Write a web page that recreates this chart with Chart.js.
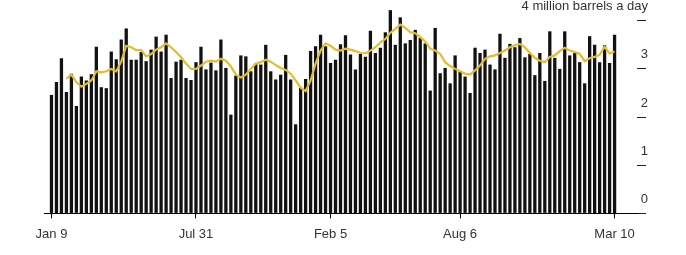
<!DOCTYPE html>
<html>
<head>
<meta charset="utf-8">
<script src="https://cdn.jsdelivr.net/npm/chart.js@4"></script>
<style>
  html, body { margin: 0; padding: 0; background: #fff; }
  #wrap { width: 686px; height: 255px; position: relative; }
</style>
</head>
<body>
<div id="wrap"><canvas id="chart"></canvas></div>
<script>
// weekly values, million barrels a day (Jan 9 ... Mar 10)
const weeklyBarrels = [
  2.46, 2.73, 3.22, 2.52, 2.90, 2.23, 2.84, 2.76, 2.89, 3.46,
  2.62, 2.60, 3.36, 3.20, 3.61, 3.84, 3.19, 3.19, 3.35, 3.16,
  3.40, 3.67, 3.36, 3.71, 2.81, 3.15, 3.19, 2.81, 2.77, 3.14,
  3.46, 2.99, 3.13, 2.97, 3.61, 3.02, 2.05, 2.86, 3.28, 3.26,
  2.95, 3.11, 3.09, 3.50, 2.95, 2.78, 2.88, 3.29, 2.78, 1.85,
  2.61, 2.79, 3.37, 3.47, 3.71, 3.47, 3.12, 3.19, 3.51, 3.70,
  3.30, 2.99, 3.31, 3.25, 3.79, 3.33, 3.44, 3.76, 4.22, 3.50,
  4.07, 3.53, 3.60, 3.81, 3.64, 3.53, 2.55, 3.85, 2.91, 3.02,
  2.70, 3.28, 2.95, 2.84, 2.50, 3.44, 3.33, 3.40, 3.09, 2.99,
  3.73, 3.23, 3.52, 3.45, 3.64, 3.24, 3.31, 2.87, 3.33, 2.75,
  3.78, 3.23, 3.00, 3.78, 3.28, 3.33, 3.14, 2.70, 3.68, 3.50,
  3.14, 3.49, 3.12, 3.71
];

// four-week average (yellow line)
const fourWeekAvg = [
  null, null, null, 2.80, 2.88, 2.72, 2.63, 2.69, 2.76, 2.95,
  2.93, 2.95, 3.00, 2.95, 3.15, 3.48, 3.45, 3.39, 3.39, 3.26,
  3.31, 3.40, 3.45, 3.53, 3.45, 3.35, 3.24, 3.11, 3.00, 3.00,
  3.07, 3.15, 3.17, 3.15, 3.21, 3.17, 3.05, 2.88, 2.82, 2.88,
  3.00, 3.11, 3.14, 3.19, 3.15, 3.08, 3.02, 2.98, 2.90, 2.76,
  2.61, 2.54, 2.76, 3.11, 3.38, 3.53, 3.48, 3.40, 3.38, 3.42,
  3.40, 3.37, 3.33, 3.32, 3.38, 3.45, 3.55, 3.62, 3.75, 3.83,
  3.92, 3.85, 3.76, 3.74, 3.66, 3.57, 3.42, 3.38, 3.31, 3.14,
  3.06, 3.00, 2.95, 2.90, 2.88, 2.97, 3.07, 3.21, 3.26, 3.28,
  3.33, 3.38, 3.45, 3.49, 3.52, 3.45, 3.33, 3.23, 3.17, 3.14,
  3.25, 3.28, 3.37, 3.44, 3.38, 3.35, 3.31, 3.16, 3.22, 3.25,
  3.29, 3.46, 3.32, 3.36
];

// x tick labels and the week they sit on
const tickLabels = ["Jan 9", "Jul 31", "Feb 5", "Aug 6", "Mar 10"];
const tickWeeks = [0, 29, 56, 82, 113];

const yUnit = "4 million barrels a day";

// one empty slot before and four after, so the axis line runs past the bars
const padBefore = 1, padAfter = 4;
const pad = (arr) => [].concat(Array(padBefore).fill(null), arr, Array(padAfter).fill(null));

const categories = pad(weeklyBarrels.map((v, i) => "w" + i)).map((c, i) => c || "");
const labelAt = (i) => {
  const k = tickWeeks.indexOf(i - padBefore);
  return k >= 0 ? tickLabels[k] : "";
};

const font = { family: "'Liberation Sans', Arial, sans-serif", size: 13 };

new Chart(document.getElementById("chart"), {
  data: {
    labels: categories,
    datasets: [
      {
        type: "line",
        data: pad(fourWeekAvg),
        borderColor: "#e3bd2a",
        borderWidth: 2.2,
        pointRadius: 0,
        tension: 0,
        spanGaps: false,
        clip: false,
        order: 0
      },
      {
        type: "bar",
        data: pad(weeklyBarrels),
        backgroundColor: "#111",
        barPercentage: 0.66,
        categoryPercentage: 1,
        clip: false,
        order: 1
      }
    ]
  },
  options: {
    responsive: true,
    maintainAspectRatio: false,
    animation: false,
    layout: { padding: { left: 44, right: 18, top: 0, bottom: 4 } },
    plugins: {
      legend: { display: false },
      tooltip: { enabled: false }
    },
    scales: {
      x: {
        offset: true,
        grid: {
          display: true,
          drawOnChartArea: false,
          drawTicks: true,
          tickLength: 5,
          offset: false,
          tickColor: ctx => labelAt(ctx.index) ? "#000" : "rgba(0,0,0,0)"
        },
        border: { display: true, color: "#000", width: 1 },
        ticks: {
          autoSkip: false,
          maxRotation: 0,
          padding: 8.5,
          color: "#333",
          font: font,
          callback: (v, i) => labelAt(i)
        }
      },
      y: {
        position: "right",
        min: 0,
        max: 4.04,
        grid: {
          drawOnChartArea: false,
          drawTicks: true,
          tickLength: 9,
          tickColor: "#222"
        },
        border: { display: false },
        ticks: {
          stepSize: 1,
          includeBounds: false,
          mirror: true,
          padding: 11,
          labelOffset: -14,
          color: "#333",
          font: font,
          callback: v => (v === 4 ? yUnit : v)
        }
      }
    }
  }
});
</script>
</body>
</html>
